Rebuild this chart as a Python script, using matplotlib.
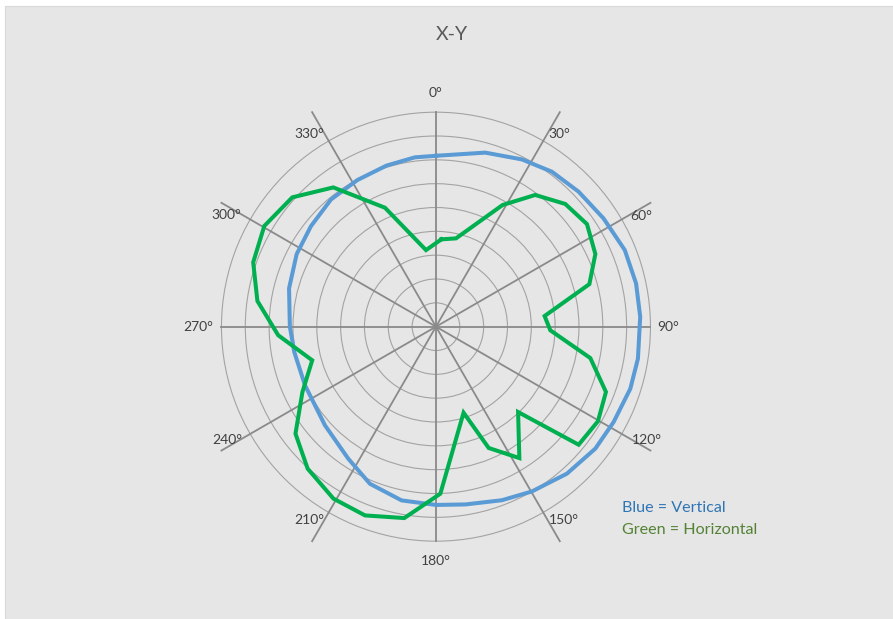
import numpy as np
import matplotlib
matplotlib.use('Agg')
import matplotlib.pyplot as plt
from matplotlib.patches import Rectangle

# Vertical polarisation (blue) - angle in degrees, radius in grid rings
blue_deg = [0, 15.8, 27.2, 36.8, 46.6, 57.1, 67.9, 77.8, 87.2, 99.0, 107.7,
            118.2, 127.4, 138.3, 149.8, 159.2, 170.6, 180.0, 191.2, 202.8,
            213.6, 228.4, 245.9, 259.9, 270.0, 284.6, 297.5, 308.8, 320.5,
            331.8, 342.9, 352.9]
blue_r = [7.17, 7.59, 7.89, 8.12, 8.24, 8.37, 8.55, 8.59, 8.58, 8.58, 8.56,
          8.46, 8.42, 8.26, 8.00, 7.79, 7.56, 7.48, 7.43, 7.15,
          6.65, 6.23, 6.02, 6.04, 6.13, 6.37, 6.59, 6.73, 6.92,
          6.98, 7.07, 7.16]

# Horizontal polarisation (green)
green_deg = [3.5, 12.8, 28.7, 37.0, 46.5, 55.8, 65.5, 74.5, 84.4, 91.8, 101.5,
             111.0, 120.3, 129.6, 136.1, 147.6, 156.5, 162.2, 178.5, 189.4,
             200.6, 210.8, 222.1, 232.7, 243.9, 254.8, 266.9, 278.2, 289.4,
             300.4, 312.0, 323.6, 336.8, 352.6]
green_r = [3.67, 3.80, 5.82, 6.92, 7.48, 7.66, 7.35, 6.68, 4.58, 4.80, 6.61,
           7.64, 7.87, 7.77, 4.97, 6.53, 5.55, 3.79, 7.01, 8.14,
           8.46, 8.40, 8.03, 7.41, 6.24, 5.38, 6.63, 7.57, 8.13,
           8.35, 8.11, 7.26, 5.43, 3.24]

spoke_deg = list(range(0, 360, 30))
spoke_labels = [f"{a}°" for a in spoke_deg]
n_rings = 9

plt.rcParams['font.family'] = ['Lato', 'DejaVu Sans']

BG = '#e6e6e6'
fig = plt.figure(figsize=(8.93, 6.19), dpi=100, facecolor='white')
fig.patches.append(Rectangle((5 / 893, 0), 1, 1 - 6 / 619, transform=fig.transFigure,
                             facecolor=BG, edgecolor='#d9d9d9', lw=0.8, zorder=-1))

ax = fig.add_axes([0.2480, 0.1257, 0.4804, 0.6931], projection='polar')
ax.set_facecolor('none')
ax.set_theta_zero_location('N')
ax.set_theta_direction(-1)
ax.set_ylim(0, n_rings)
ax.spines['polar'].set_visible(False)
ax.set_xticks([])
ax.set_rgrids(range(1, n_rings + 1), labels=[])
ax.yaxis.grid(True, color='#a3a3a3', lw=0.8)
ax.xaxis.grid(False)
for gl in ax.yaxis.get_gridlines():
    gl.set_clip_on(False)

# spokes run out to the square that bounds the outer ring
for a in spoke_deg:
    t = np.deg2rad(a)
    r_end = n_rings / max(abs(np.cos(t)), abs(np.sin(t)))
    ax.plot([t, t], [0, r_end], color='#8a8a8a', lw=1.3, clip_on=False, zorder=2)

# label positions (angle, radius) as placed in the original
lab_pos = [(0, 9.81), (32.5, 9.59), (61.6, 9.78), (90, 9.74), (118.2, 10.05),
           (146.5, 9.73), (180, 9.83), (213.3, 9.70), (241.5, 9.98), (270, 9.99),
           (298, 9.98), (326.6, 9.68)]
for (a, r), lab in zip(lab_pos, spoke_labels):
    ax.text(np.deg2rad(a), r, lab, ha='center', va='center', fontsize=10,
            color='#404040', clip_on=False)

bt = np.deg2rad(blue_deg + blue_deg[:1])
ax.plot(bt, blue_r + blue_r[:1], color='#5b9bd5', lw=2.9, zorder=3,
        solid_joinstyle='round')
gt = np.deg2rad(green_deg + green_deg[:1])
ax.plot(gt, green_r + green_r[:1], color='#00b050', lw=2.9, zorder=4,
        solid_joinstyle='miter')

fig.text(452 / 893, 1 - 34 / 619, 'X-Y', ha='center', va='center', fontsize=14,
         color='#595959')
fig.text(622 / 893, 1 - 508 / 619, 'Blue = Vertical', ha='left', va='center',
         fontsize=11.6, color='#2e75b6')
fig.text(622 / 893, 1 - 530 / 619, 'Green = Horizontal', ha='left', va='center',
         fontsize=11.6, color='#548235')

fig.savefig('out.png', dpi=100, facecolor='white')
